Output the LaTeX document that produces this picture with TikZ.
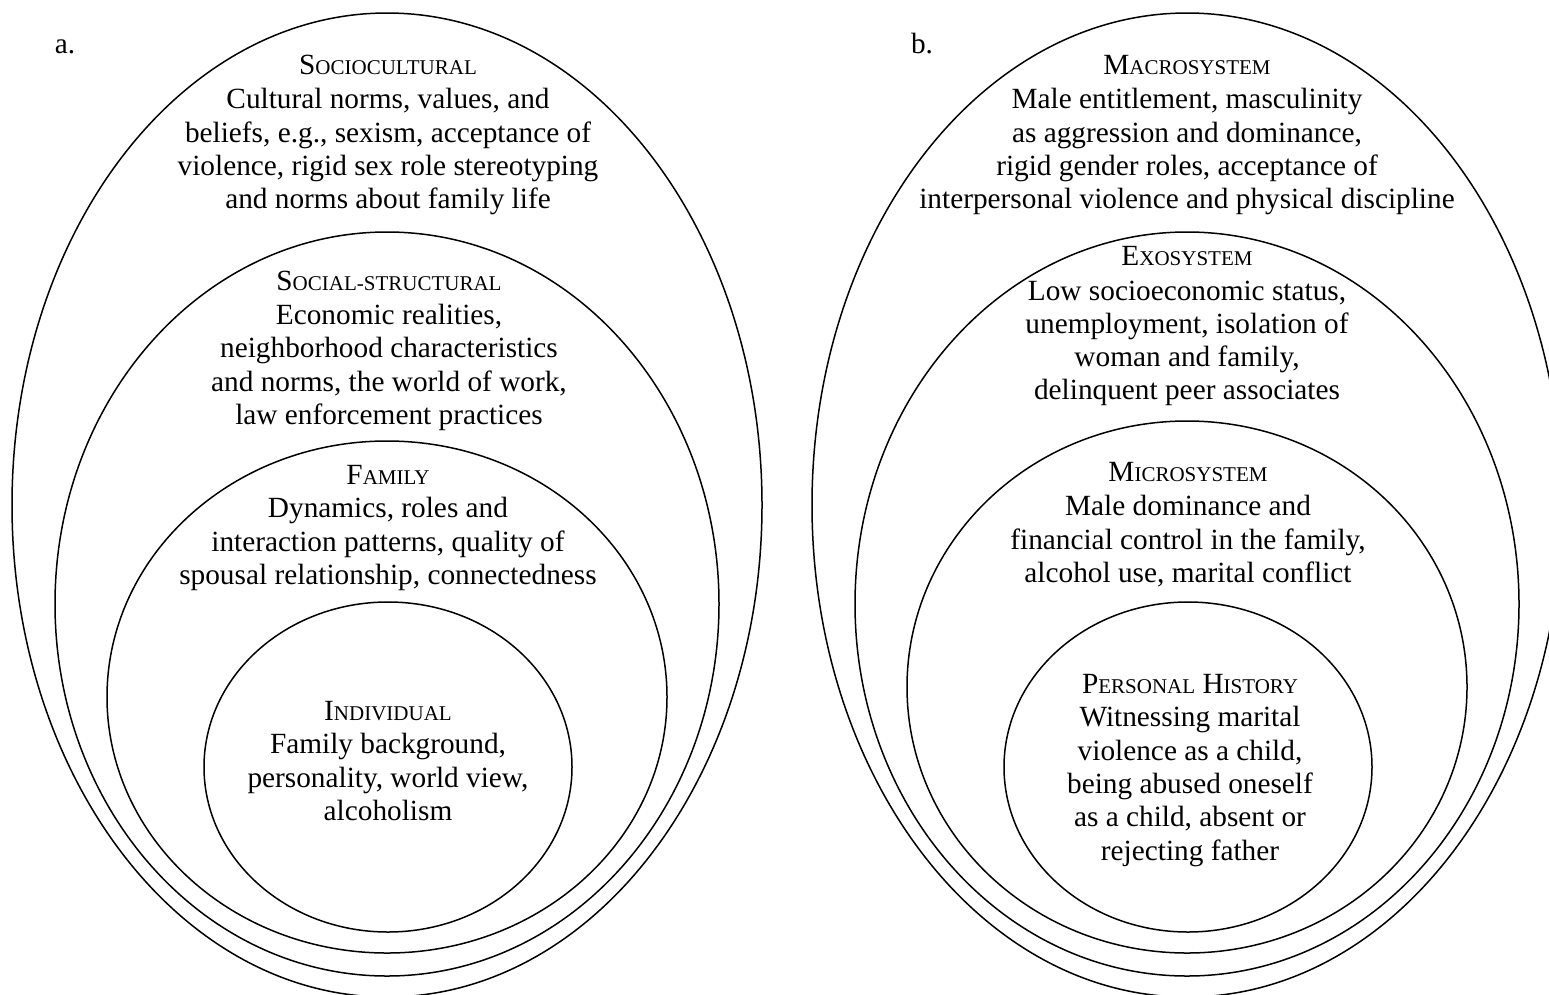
\documentclass[tikz,border=0pt]{standalone}
\usepackage{fontspec}
\setmainfont{Liberation Serif}
\usetikzlibrary{shapes.geometric}
\newcommand\mysc[2]{#1{\fontsize{21}{21}\selectfont #2}}
\begin{document}
\begin{tikzpicture}[x=1pt,y=-1pt,
  ring/.style={draw, ellipse, line width=1.5pt, inner sep=0pt},
  txt/.style={anchor=base, inner sep=0pt, font=\fontsize{29.3}{33.5}\selectfont}]
\useasboundingbox (0,0) rectangle (1549,994);
\clip (0,0) rectangle (1549,994);
% panel a
\node[ring, minimum width=750pt, minimum height=984pt] (aOuter) at (387,505) {};
\node[ring, minimum width=664pt, minimum height=744pt] (aSocial) at (387,604) {};
\node[ring, minimum width=560pt, minimum height=512pt] (aFamily) at (387,697) {};
\node[ring, minimum width=368pt, minimum height=330pt] (aIndiv) at (388,767) {};
\node[txt] (la) at (65,53) {a.};
\node[txt] (a11) at (388,74) {\mysc{S}{OCIOCULTURAL}};
\node[txt] (a12) at (388,108) {Cultural norms, values, and};
\node[txt] (a13) at (388,142) {beliefs, e.g., sexism, acceptance of};
\node[txt] (a14) at (388,175) {violence, rigid sex role stereotyping};
\node[txt] (a15) at (388,208) {and norms about family life};
\node[txt] (a21) at (389,290) {\mysc{S}{OCIAL-STRUCTURAL}};
\node[txt] (a22) at (389,324) {Economic realities,};
\node[txt] (a23) at (389,357) {neighborhood characteristics};
\node[txt] (a24) at (389,391) {and norms, the world of work,};
\node[txt] (a25) at (389,424) {law enforcement practices};
\node[txt] (a31) at (388,484) {\mysc{F}{AMILY}};
\node[txt] (a32) at (388,517) {Dynamics, roles and};
\node[txt] (a33) at (388,551) {interaction patterns, quality of};
\node[txt] (a34) at (388,584) {spousal relationship, connectedness};
\node[txt] (a41) at (388,720) {\mysc{I}{NDIVIDUAL}};
\node[txt] (a42) at (388,753) {Family background,};
\node[txt] (a43) at (388,787) {personality, world view,};
\node[txt] (a44) at (388,820) {alcoholism};
% panel b
\node[ring, minimum width=750pt, minimum height=984pt] (bOuter) at (1187,505) {};
\node[ring, minimum width=664pt, minimum height=744pt] (bExo) at (1187,604) {};
\node[ring, minimum width=560pt, minimum height=532pt] (bMicro) at (1187,687) {};
\node[ring, minimum width=368pt, minimum height=330pt] (bPers) at (1188,767) {};
\node[txt] (lb) at (922,53) {b.};
\node[txt] (b11) at (1187,74) {\mysc{M}{ACROSYSTEM}};
\node[txt] (b12) at (1187,108) {Male entitlement, masculinity};
\node[txt] (b13) at (1187,142) {as aggression and dominance,};
\node[txt] (b14) at (1187,175) {rigid gender roles, acceptance of};
\node[txt] (b15) at (1187,208) {interpersonal violence and physical discipline};
\node[txt] (b21) at (1187,265) {\mysc{E}{XOSYSTEM}};
\node[txt] (b22) at (1187,300) {Low socioeconomic status,};
\node[txt] (b23) at (1187,333) {unemployment, isolation of};
\node[txt] (b24) at (1187,366) {woman and family,};
\node[txt] (b25) at (1187,399) {delinquent peer associates};
\node[txt] (b31) at (1188,481) {\mysc{M}{ICROSYSTEM}};
\node[txt] (b32) at (1188,515) {Male dominance and};
\node[txt] (b33) at (1188,549) {financial control in the family,};
\node[txt] (b34) at (1188,582) {alcohol use, marital conflict};
\node[txt] (b41) at (1190,693) {\mysc{P}{ERSONAL} \mysc{H}{ISTORY}};
\node[txt] (b42) at (1190,726) {Witnessing marital};
\node[txt] (b43) at (1190,760) {violence as a child,};
\node[txt] (b44) at (1190,793) {being abused oneself};
\node[txt] (b45) at (1190,826) {as a child, absent or};
\node[txt] (b46) at (1190,860) {rejecting father};
\end{tikzpicture}
\end{document}
